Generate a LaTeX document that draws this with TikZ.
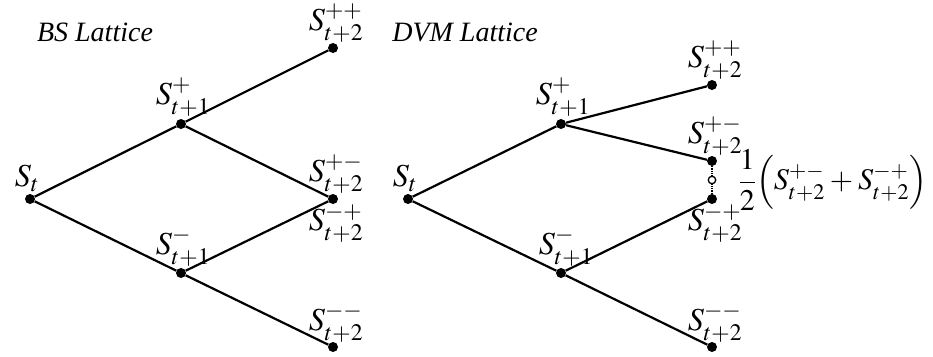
\documentclass[tikz,border=0pt]{standalone}
\usepackage{amsmath}
\usepackage{mathptmx}
\usepackage[no-math]{fontspec}
\setmainfont{Liberation Serif}
\usetikzlibrary{positioning}

\begin{document}
\begin{tikzpicture}[
  x=1pt, y=-1pt,
  dot/.style={circle, fill=black, inner sep=0pt, minimum size=10pt},
  hole/.style={circle, draw, fill=white, line width=1.3pt, inner sep=0pt, minimum size=7.5pt},
  lbl/.style={font=\fontsize{32}{36}\selectfont, inner sep=0pt},
  ttl/.style={font=\fontsize{28}{32}\selectfont\itshape},
  edge/.style={line width=2.2pt}
]
  \useasboundingbox (0,0) rectangle (933,356);

  % BS lattice
  \node[ttl] (bsttl) at (95,32) {BS Lattice};
  \node[dot] (b0) at (30,199) {};
  \node[dot] (bu) at (181,124) {};
  \node[dot] (bd) at (181,273) {};
  \node[dot] (buu) at (333,48) {};
  \node[dot] (bud) at (333,199) {};
  \node[dot] (bdd) at (333,347) {};
  \draw[edge] (b0) -- (bu) -- (buu);
  \draw[edge] (b0) -- (bd) -- (bdd);
  \draw[edge] (bu) -- (bud) -- (bd);
  \node[lbl, anchor=south] at (27,192) {$S_t$};
  \node[lbl, anchor=south] at (183,117) {$S^{+}_{t+1}$};
  \node[lbl, anchor=south] at (183,267) {$S^{-}_{t+1}$};
  \node[lbl, anchor=south] at (336,43) {$S^{++}_{t+2}$};
  \node[lbl, anchor=south] at (336,194) {$S^{+-}_{t+2}$};
  \node[lbl, anchor=north] at (336,204) {$S^{-+}_{t+2}$};
  \node[lbl, anchor=south] at (336,343) {$S^{--}_{t+2}$};

  % DVM lattice
  \node[ttl] (dvmttl) at (465,32) {DVM Lattice};
  \node[dot] (d0) at (408,199) {};
  \node[dot] (du) at (561,124) {};
  \node[dot] (dd) at (561,273) {};
  \node[dot] (duu) at (712,85) {};
  \node[dot] (dud) at (712,161) {};
  \node[dot] (ddu) at (712,199) {};
  \node[dot] (ddd) at (712,347) {};
  \draw[edge] (d0) -- (du) -- (duu);
  \draw[edge] (d0) -- (dd) -- (ddd);
  \draw[edge] (du) -- (dud);
  \draw[edge] (dd) -- (ddu);
  \draw[line width=1.2pt, densely dotted] (dud) -- (ddu);
  \node[hole] (avg) at (712,180) {};
  \node[lbl, anchor=south] at (405,192) {$S_t$};
  \node[lbl, anchor=south] at (563,117) {$S^{+}_{t+1}$};
  \node[lbl, anchor=south] at (566,267) {$S^{-}_{t+1}$};
  \node[lbl, anchor=south] at (715,80) {$S^{++}_{t+2}$};
  \node[lbl, anchor=south] at (715,156) {$S^{+-}_{t+2}$};
  \node[lbl, anchor=north] at (715,204) {$S^{-+}_{t+2}$};
  \node[lbl, anchor=south] at (715,343) {$S^{--}_{t+2}$};
  \node[lbl, font=\fontsize{30}{34}\selectfont, right=22pt of avg] (mean)
    {$\dfrac{1}{2}\Bigl(S^{+-}_{t+2}\mskip3mu{+}\mskip3mu S^{-+}_{t+2}\Bigr)$};
\end{tikzpicture}
\end{document}
